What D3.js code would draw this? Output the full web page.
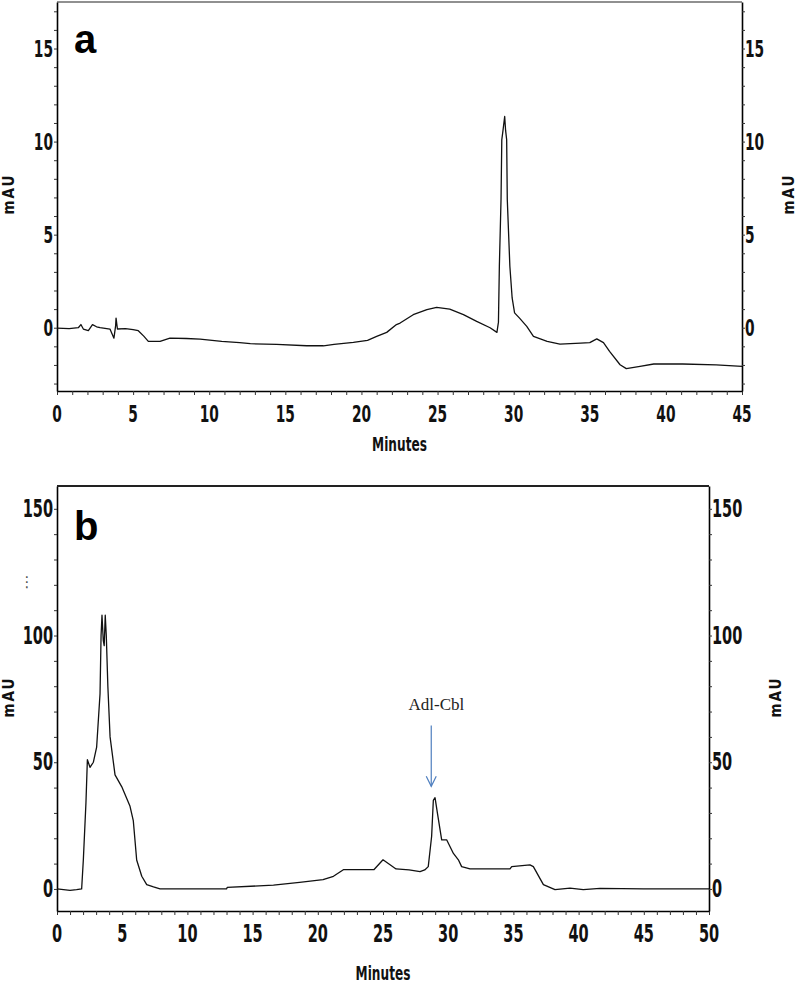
<!DOCTYPE html>
<html lang="en">
<head>
<meta charset="UTF-8" />
<title>Chromatograms a and b</title>
<script src="https://d3js.org/d3.v7.min.js"></script>
<style>
  body { margin: 0; background: white; }
  svg { display: block; }
  .num { font-family: "Liberation Sans Narrow", "DejaVu Sans Condensed", "Arial Narrow", sans-serif; font-weight: bold; fill: #111; }
  .panel-letter { font-family: "Liberation Sans", Arial, sans-serif; font-weight: bold; fill: #000; }
</style>
</head>
<body>
<svg id="chart" width="799" height="984"></svg>
<script>
// ---- panel a : trace (minutes, mAU)
const timeA = [
  0, 0.8, 1.4, 1.57, 1.73, 2.06, 2.33, 2.6, 2.83, 3.48,
  3.74, 3.85, 3.88, 3.97, 4.5, 5.0, 5.34, 5.7, 6.0, 6.77,
  7.42, 8.5, 9.4, 10.82, 12.0, 12.7, 14.43, 16.4, 17.5, 18.2,
  19.47, 20.4, 21.0, 21.66, 22.3, 22.54, 23.4, 24.3, 24.94, 25.8,
  26.7, 27.57, 28.45, 28.9, 29.0, 29.06, 29.17, 29.22, 29.3, 29.41,
  29.47, 29.54, 29.58, 29.75, 29.9, 30.06, 30.4, 30.86, 31.3, 32.2,
  33.04, 34.4, 35.0, 35.46, 35.9, 36.3, 36.99, 37.4, 38.3, 39.2,
  41.1, 43.3, 45.0
];
const mauA = [
  -0.02, -0.05, 0.0, 0.17, -0.07, -0.16, 0.17, 0.05, 0.0, -0.07,
  -0.56, 0.1, 0.52, -0.07, -0.05, -0.1, -0.16, -0.45, -0.73, -0.73,
  -0.56, -0.58, -0.61, -0.73, -0.8, -0.86, -0.9, -0.97, -0.97, -0.9,
  -0.79, -0.68, -0.47, -0.25, 0.17, 0.25, 0.7, 0.97, 1.09, 1.0,
  0.7, 0.34, 0.0, -0.25, 0.3, 3.3, 6.9, 10.1, 10.6, 11.35,
  10.6, 10.1, 6.9, 3.3, 1.6, 0.8, 0.5, 0.07, -0.47, -0.73,
  -0.88, -0.83, -0.8, -0.6, -0.8, -1.27, -1.99, -2.2, -2.08, -1.95,
  -1.95, -2.0, -2.08
];
const xTicksA = [0, 5, 10, 15, 20, 25, 30, 35, 40, 45];
const yTicksA = [0, 5, 10, 15];

// ---- panel b
const timeB = [
  0, 1.0, 1.5, 1.89, 2.02, 2.22, 2.33, 2.53, 2.79, 3.04,
  3.3, 3.38, 3.45, 3.55, 3.62, 3.7, 3.78, 3.9, 4.07, 4.45,
  4.96, 5.6, 5.85, 6.11, 6.5, 6.88, 7.4, 7.9, 10, 13.0,
  13.05, 16.6, 18.6, 20.4, 21.2, 21.96, 24.3, 25.0, 26.0, 27.0,
  27.84, 28.2, 28.47, 28.73, 28.86, 28.99, 29.17, 29.5, 29.88, 30.4,
  30.78, 31.03, 31.67, 34.74, 34.87, 36.27, 36.53, 37.3, 38.19, 39.34,
  40.36, 41.64, 45, 50
];
const mauB = [
  0, -0.6, -0.3, 0, 11.5, 34, 51, 48, 50, 56,
  77, 100, 108, 98, 96, 108, 100, 80, 60, 45,
  40.4, 32.6, 27, 11.4, 5, 1.7, 0.8, 0, 0, 0,
  0.6, 1.5, 2.6, 3.7, 5, 7.6, 7.6, 11.5, 7.9, 7.5,
  6.8, 7.5, 8.8, 20.8, 35, 36, 30, 19.4, 19.4, 14,
  11.5, 8.8, 7.9, 7.9, 8.8, 9.5, 8.8, 1.7, -0.3, 0.3,
  -0.3, 0.2, 0, 0
];
const xTicksB = [0, 5, 10, 15, 20, 25, 30, 35, 40, 45, 50];
const yTicksB = [0, 50, 100, 150];

// annotation on panel b
const peakLabel = "Adl-Cbl";
const peakArrow = { time: 28.7, from: 64.5, to: 40.5 };
const peakText = { time: 29.1, value: 70.5 };

const svg = d3.select("#chart");

function drawPanel(p) {
  const g = svg.append("g");
  const x = d3.scaleLinear().domain(p.xDomain).range([p.left, p.right]);
  const y = d3.scaleLinear().domain(p.yDomain).range([p.bottom, p.top]);

  // minor ticks (every minute / every yStep)
  const minorX = d3.range(Math.ceil(p.xDomain[0]), p.xDomain[1] + 0.001, 1);
  const minorY = d3.range(Math.ceil(p.yDomain[0] / p.yStep) * p.yStep, p.yDomain[1], p.yStep);

  g.append("g").attr("transform", `translate(0,${p.bottom})`)
    .call(d3.axisBottom(x).tickValues(minorX).tickSize(4).tickSizeOuter(0).tickFormat(""))
    .call(a => a.select(".domain").attr("stroke-width", 1.6));
  g.append("g").attr("transform", `translate(${p.left},0)`)
    .call(d3.axisLeft(y).tickValues(minorY).tickSize(3).tickSizeOuter(0).tickFormat(""))
    .call(a => a.select(".domain").attr("stroke-width", 1.6));
  g.append("g").attr("transform", `translate(${p.right},0)`)
    .call(d3.axisRight(y).tickValues(minorY).tickSize(3).tickSizeOuter(0).tickFormat(""))
    .call(a => a.select(".domain").attr("stroke-width", 1.6));
  g.selectAll(".tick line").attr("stroke", "#333");

  // top frame line
  g.append("line")
    .attr("x1", p.left).attr("x2", p.right)
    .attr("y1", p.top).attr("y2", p.top)
    .attr("stroke", "#222").attr("stroke-width", p.topWidth);

  // tick labels, tall and narrow
  const lab = (sel, tx, ty, anchor, txt) => sel.append("text")
    .attr("class", "num")
    .attr("text-anchor", anchor)
    .attr("font-size", p.fontSize)
    .attr("transform", `translate(${tx},${ty}) scale(0.85,1.3)`)
    .text(txt);

  p.xTicks.forEach(t => lab(g, x(t), p.bottom + 31, "middle", t));
  p.yTicks.forEach(t => {
    lab(g, p.left - 4, y(t) + 8, "end", t);
    lab(g, p.right + 3, y(t) + 8, "start", t);
  });

  // axis titles
  g.append("text").attr("class", "num")
    .attr("text-anchor", "middle").attr("font-size", 15)
    .attr("transform", `translate(${(p.left + p.right) / 2},${p.minutesY}) scale(0.9,1.25)`)
    .text("Minutes");
  [[p.mauLeftX, p.mauY], [p.mauRightX, p.mauY]].forEach(([mx, my]) => {
    g.append("text").attr("class", "num")
      .attr("text-anchor", "middle").attr("font-size", 15)
      .attr("letter-spacing", 2)
      .attr("transform", `translate(${mx},${my}) rotate(-90)`)
      .text("mAU");
  });

  // panel letter
  g.append("text").attr("class", "panel-letter")
    .attr("x", p.left + 17).attr("y", p.letterY)
    .attr("font-size", 40)
    .text(p.letter);

  // trace
  const line = d3.line().x((d, i) => x(p.times[i])).y(d => y(d));
  g.append("path")
    .datum(p.values)
    .attr("fill", "none")
    .attr("stroke", "#111")
    .attr("stroke-width", 1.3)
    .attr("stroke-linejoin", "round")
    .attr("d", line);

  return { g, x, y };
}

drawPanel({
  left: 57, right: 742, top: 2, bottom: 391,
  xDomain: [0, 45], yDomain: [-3.4, 17.5], yStep: 1,
  xTicks: xTicksA, yTicks: yTicksA, times: timeA, values: mauA,
  fontSize: 18, topWidth: 1.2, minutesY: 451,
  mauLeftX: 14, mauRightX: 794, mauY: 194,
  letter: "a", letterY: 53
});

const pb = drawPanel({
  left: 57, right: 709, top: 486, bottom: 911,
  xDomain: [0, 50], yDomain: [-8.7, 159], yStep: 10,
  xTicks: xTicksB, yTicks: yTicksB, times: timeB, values: mauB,
  fontSize: 19, topWidth: 2, minutesY: 980,
  mauLeftX: 14, mauRightX: 781, mauY: 697,
  letter: "b", letterY: 540
});

// stray dots left of panel b
svg.append("text")
  .attr("x", 27).attr("y", 587)
  .attr("text-anchor", "middle")
  .attr("font-family", "DejaVu Sans, sans-serif")
  .attr("font-size", 15).attr("fill", "#555")
  .text("⋮");

// Adl-Cbl label and arrow
pb.g.append("text")
  .attr("x", pb.x(peakText.time)).attr("y", pb.y(peakText.value))
  .attr("text-anchor", "middle")
  .attr("font-family", "Liberation Serif, 'Times New Roman', serif")
  .attr("font-size", 17).attr("fill", "#222")
  .text(peakLabel);

const ax = pb.x(peakArrow.time), ay0 = pb.y(peakArrow.from), ay1 = pb.y(peakArrow.to);
pb.g.append("line")
  .attr("x1", ax).attr("x2", ax).attr("y1", ay0).attr("y2", ay1)
  .attr("stroke", "#4f7fbf").attr("stroke-width", 1.2);
pb.g.append("path")
  .attr("d", `M${ax - 5},${ay1 - 10}L${ax},${ay1}L${ax + 5},${ay1 - 10}`)
  .attr("fill", "none").attr("stroke", "#4f7fbf").attr("stroke-width", 1.2);
</script>
</body>
</html>
